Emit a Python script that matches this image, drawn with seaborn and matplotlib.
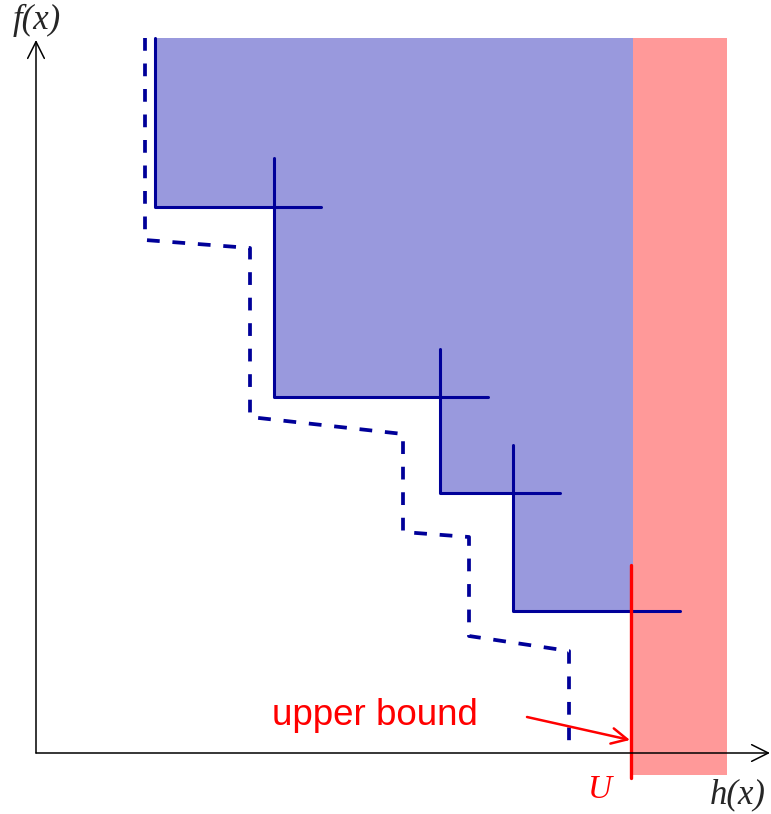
import pandas as pd
import matplotlib.pyplot as plt
import seaborn as sns

# objective space, h(x) to the right, f(x) upwards
top = 715
front_h = [238, 404, 477, 597]      # non-dominated points (crosses)
front_f = [546, 356, 260, 142]
start_h = 119                       # left edge of the attained set
arm_h = [47, 48, 47, 47]            # cross arms to the right
arm_f = [49, 48, 48, 0]             # cross arms upwards

dash_h = [109, 109, 214, 214, 367, 367, 433, 433, 533, 533]
dash_f = [top, 513, 505, 336, 319, 221, 216, 117, 102, 0]

upper_bound = 595
pink_right = 691
pink_bottom = -22
red_bottom = -25
red_top = 188

navy = "#000099"
blue_fill = "#9999DD"
pink = "#FF9999"
red = "#FF0000"

sns.set_style("white")
fig = plt.figure(figsize=(7.71, 8.14), dpi=100)
ax = fig.add_axes([0, 0, 1, 1])
ax.set_xlim(-36, 735)
ax.set_ylim(-61, 753)
ax.axis("off")

# staircase through the front
stair_h, stair_f = [start_h, start_h], [top, front_f[0]]
for i, (h, f) in enumerate(zip(front_h, front_f)):
    stair_h += [h]
    stair_f += [f]
    if i + 1 < len(front_h):
        stair_h += [h]
        stair_f += [front_f[i + 1]]
stair = pd.DataFrame({"h": stair_h, "f": stair_f})

# dominated region and the region beyond the bound
ax.fill(stair_h + [front_h[-1], front_h[-1]], stair_f + [front_f[-1], top],
        color=blue_fill, lw=0, zorder=1)
ax.fill([front_h[-1], pink_right, pink_right, front_h[-1]],
        [pink_bottom, pink_bottom, top, top], color=pink, lw=0, zorder=1)

sns.lineplot(data=stair, x="h", y="f", sort=False, estimator=None,
             color=navy, lw=2.2, ax=ax, zorder=3)
for h, f, ah, af in zip(front_h, front_f, arm_h, arm_f):
    ax.plot([h, h + ah], [f, f], color=navy, lw=2.2, zorder=3)
    if af:
        ax.plot([h, h], [f, f + af], color=navy, lw=2.2, zorder=3)

dash = pd.DataFrame({"h": dash_h, "f": dash_f})
sns.lineplot(data=dash, x="h", y="f", sort=False, estimator=None,
             color=navy, lw=2.7, dashes=False, ax=ax, zorder=3,
             linestyle=(0, (3.4, 3.4)))

# upper bound line
ax.plot([upper_bound, upper_bound], [red_bottom, red_top], color=red, lw=2.4, zorder=4)

# axes with arrows
ax.annotate("", xy=(734, 0), xytext=(0, 0),
            arrowprops=dict(arrowstyle="->", color="black", lw=1.1,
                            mutation_scale=30, shrinkA=0, shrinkB=0), zorder=5)
ax.annotate("", xy=(0, 713), xytext=(0, 0),
            arrowprops=dict(arrowstyle="->", color="black", lw=1.1,
                            mutation_scale=30, shrinkA=0, shrinkB=0), zorder=5)

ax.annotate("", xy=(upper_bound - 1, 13), xytext=(491, 36),
            arrowprops=dict(arrowstyle="->", color=red, lw=1.8,
                            mutation_scale=28, shrinkA=0, shrinkB=0), zorder=5)
ax.text(236, 28, "upper bound", color=red, fontsize=26.5,
        family="Liberation Sans", ha="left", va="baseline")

ax.text(1, 733, "f(x)", fontsize=25, family="Liberation Serif",
        style="italic", ha="center", va="center")
ax.text(702, -42, "h(x)", fontsize=25, family="Liberation Serif",
        style="italic", ha="center", va="center")
ax.text(564, -37, "U", fontsize=24, family="Liberation Serif",
        style="italic", color=red, ha="center", va="center")

fig.savefig("out.png", dpi=100)
